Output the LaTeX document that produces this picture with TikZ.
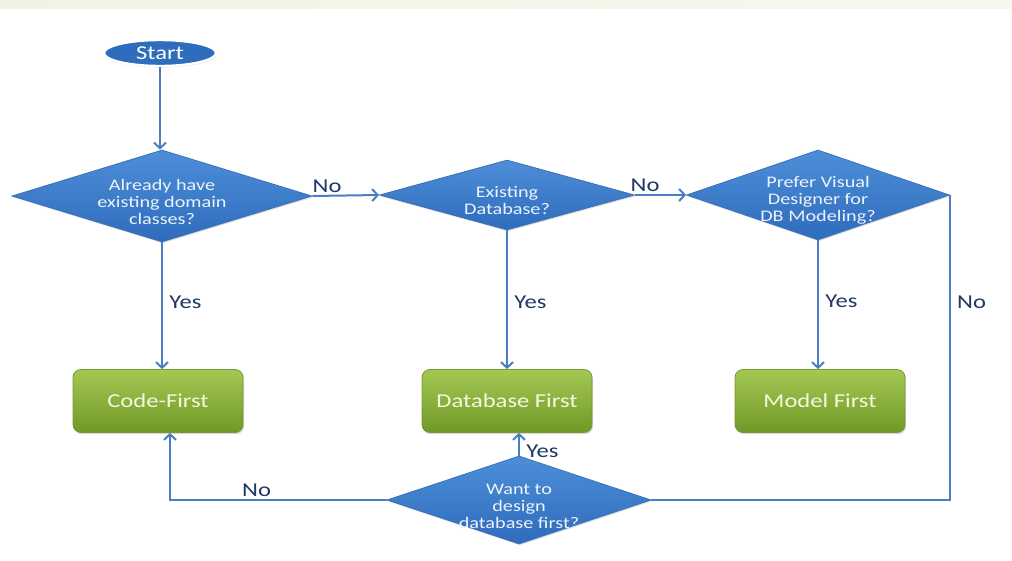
\documentclass[tikz,border=0pt]{standalone}
\usepackage{fontspec}
\setmainfont{Carlito}[FakeStretch=1.25]
\usetikzlibrary{positioning}
\usetikzlibrary{arrows}
\usetikzlibrary{arrows.meta}
\usetikzlibrary{shapes.geometric}
\usetikzlibrary{shadows}
\definecolor{flowline}{RGB}{74,126,196}
\definecolor{flowtext}{RGB}{31,56,100}
\definecolor{decitop}{RGB}{78,142,216}
\definecolor{decibot}{RGB}{46,108,188}
\definecolor{decirim}{RGB}{58,112,182}
\definecolor{outtop}{RGB}{164,200,84}
\definecolor{outbot}{RGB}{112,152,38}
\definecolor{outrim}{RGB}{120,152,50}
\definecolor{band}{RGB}{240,243,228}
\newcommand{\dstrut}{\rule{0pt}{16pt}}

\begin{document}
\begin{tikzpicture}[
		>={Straight Barb[length=1.4mm, width=3mm]},
		decision/.style={diamond, draw=decirim, line width={0.2mm}, top color=decitop, bottom color=decibot, text={rgb,255:red,236;green,243;blue,251}, align=center, inner sep=-2mm, font=\fontsize{11.5}{12}\selectfont, drop shadow={opacity=0.25, shadow xshift=0.6pt, shadow yshift=-1pt}},
		outcome/.style={rectangle, rounded corners=2mm, draw=outrim, line width={0.2mm}, top color=outtop, bottom color=outbot, text={rgb,255:red,246;green,248;blue,226}, minimum width=4.25cm, minimum height=1.575cm, font=\fontsize{14}{16}\selectfont, drop shadow={opacity=0.3, shadow xshift=0.8pt, shadow yshift=-1.2pt}},
		startnode/.style={ellipse, fill=decibot, draw=white, line width={0.6mm}, text=white, minimum width=2.8cm, minimum height=0.65cm, inner sep=0pt, font=\fontsize{14}{16}\selectfont, drop shadow={opacity=0.3, shadow xshift=0.6pt, shadow yshift=-1pt}},
		flow/.style={->, draw=flowline, line width={0.5mm}},
		line/.style={draw=flowline, line width={0.5mm}},
		lbl/.style={text=flowtext, font=\fontsize{14}{16}\selectfont, inner sep=1.5pt}
	]
			\useasboundingbox (0,0) rectangle (25.3,-14.025);
			\shade[left color=band, right color=band!60!white] (0,0) rectangle (25.3,-0.2);
			\node[startnode] (start) at (4.0, -1.325) {Start};
			\node[decision, aspect=3.26, minimum width=7.5cm, minimum height=2.3cm] (classes) at (4.05, -4.9) {\dstrut Already have\\existing domain\\classes?};
			\node[decision, aspect=3.64, minimum width=6.375cm, minimum height=1.75cm] (existing) at (12.675, -4.875) {\dstrut Existing\\Database?};
			\node[decision, aspect=2.92, minimum width=6.575cm, minimum height=2.25cm] (visual) at (20.45, -4.875) {\dstrut Prefer Visual\\Designer for\\DB Modeling?};
			\node[outcome] (codefirst) at (3.95, -10.025) {Code-First};
			\node[outcome] (dbfirst) at (12.675, -10.025) {Database First};
			\node[outcome] (modelfirst) at (20.5, -10.025) {Model First};
			\node[decision, aspect=3, minimum width=6.6cm, minimum height=2.2cm] (design) at (12.975, -12.5) {\dstrut Want to\\design\\database first?};
			\draw[flow] (start) to (start |- classes.north);
			\draw[flow] (classes.east) to node[lbl, pos=0.22, above] {No} (existing.west);
			\draw[flow] (existing.east) to node[lbl, pos=0.2, above] {No} (visual.west);
			\draw[flow] (classes.south) to node[lbl, pos=0.47, right=3pt] {Yes} (classes.south |- codefirst.north);
			\draw[flow] (existing.south) to node[lbl, pos=0.52, right=3pt] {Yes} (existing.south |- dbfirst.north);
			\draw[flow] (visual.south) to node[lbl, pos=0.47, right=3pt] {Yes} (visual.south |- modelfirst.north);
			\draw[line] (visual.east) |- node[lbl, pos=0.175, right=3pt] {No} (design.east);
			\draw[flow] (design.north) to node[lbl, pos=0.2, right=3pt] {Yes} (design.north |- dbfirst.south);
			\draw[flow] (design.west) -| node[lbl, pos=0.3, above] {No} ([xshift=3mm]codefirst.south);
		\end{tikzpicture}
\end{document}
